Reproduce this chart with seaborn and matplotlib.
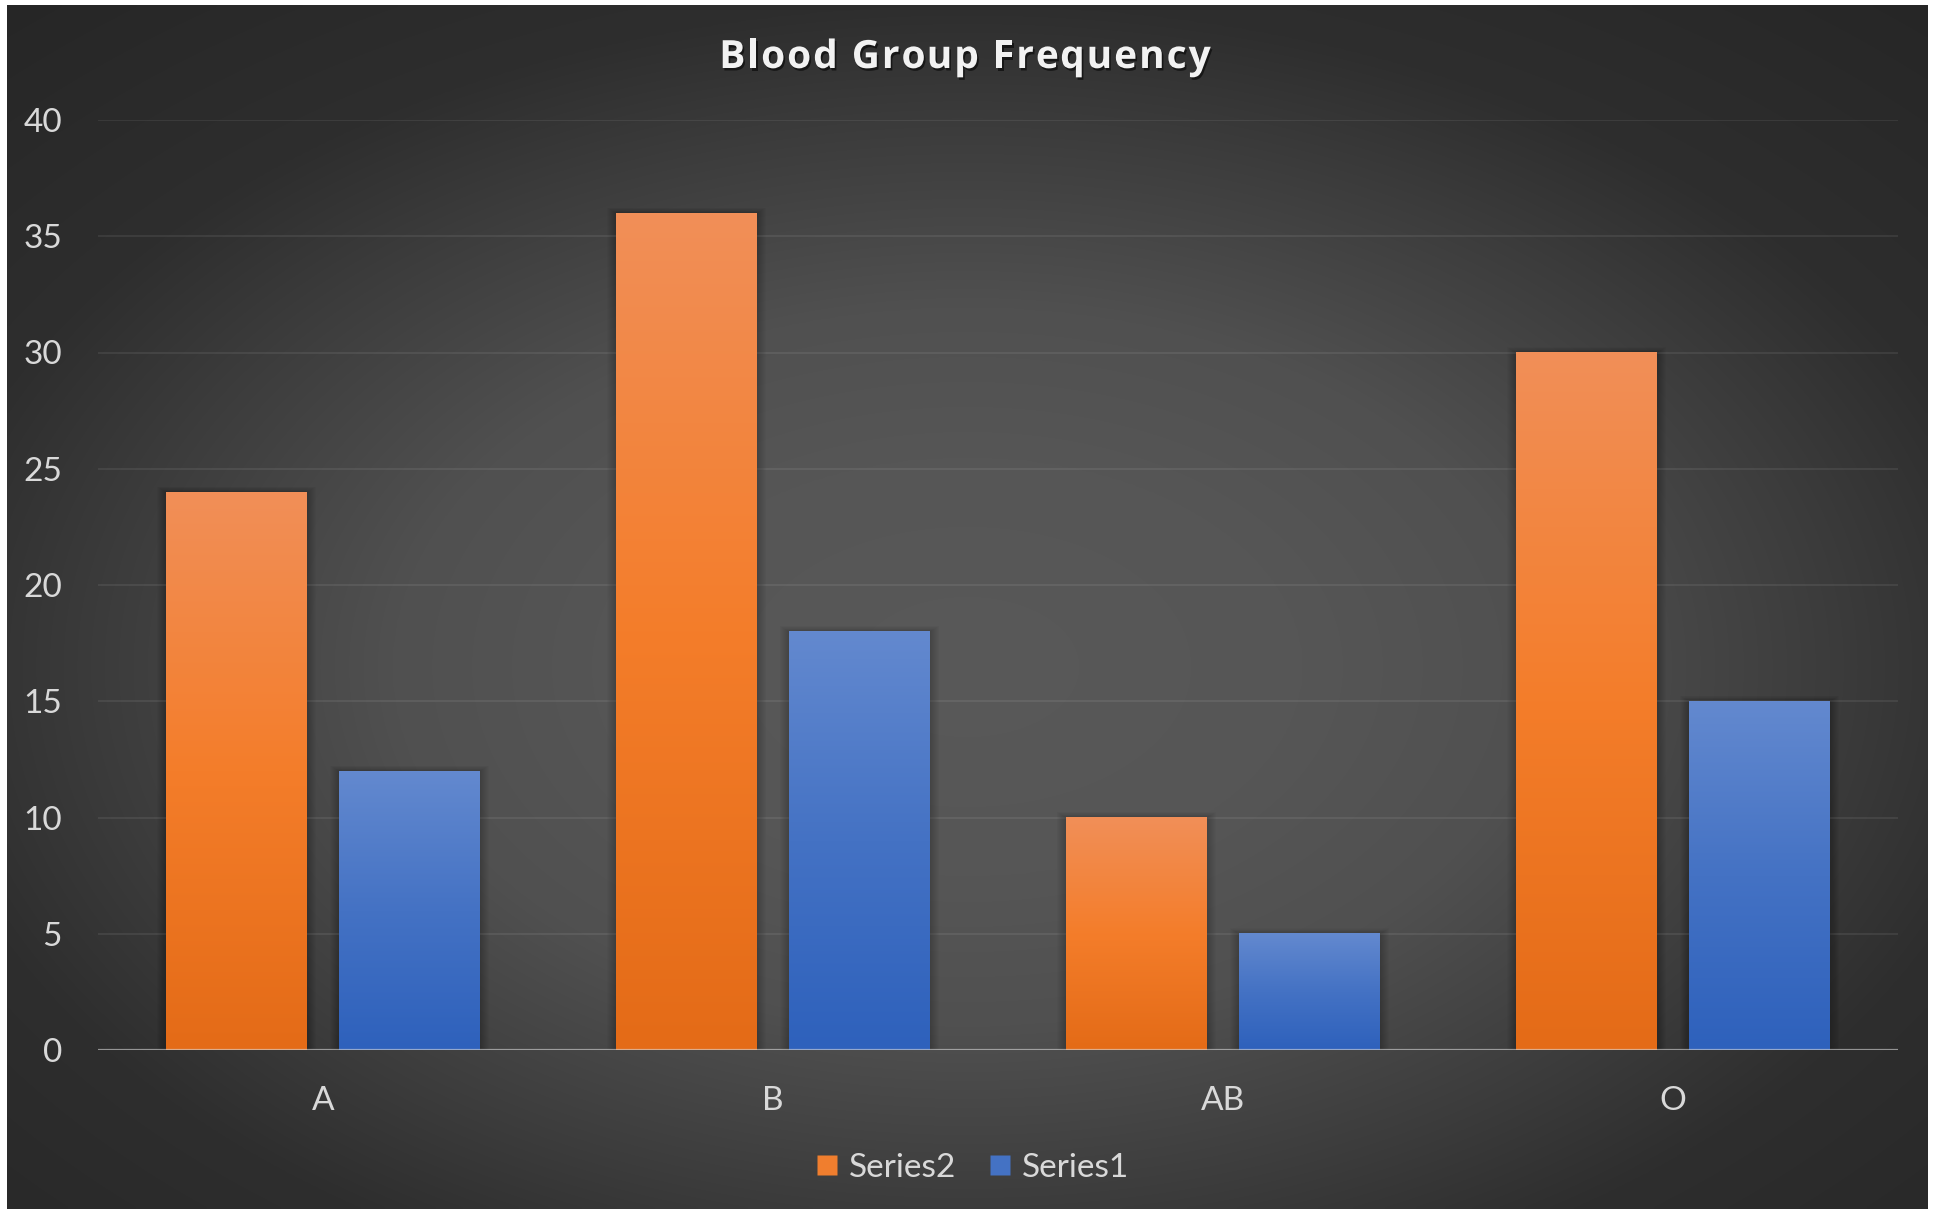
import numpy as np
import pandas as pd
import matplotlib
matplotlib.use("Agg")
import matplotlib.pyplot as plt
import matplotlib.patheffects as pe
from matplotlib.lines import Line2D
from matplotlib.patches import Rectangle
import seaborn as sns

# ---- data ----
groups = ["A", "B", "AB", "O"]
series2 = [24, 36, 10, 30]
series1 = [12, 18, 5, 15]
series_names = ["Series2", "Series1"]
y_ticks = [0, 5, 10, 15, 20, 25, 30, 35, 40]
title = "Blood Group Frequency"

df = pd.DataFrame({
    "group": groups * 2,
    "value": series2 + series1,
    "series": [series_names[0]] * len(groups) + [series_names[1]] * len(groups),
})

W, H, DPI = 1938, 1209, 100
sns.set_theme(style="white")
plt.rcParams["font.family"] = ["Lato", "DejaVu Sans"]

fig = plt.figure(figsize=(W / DPI, H / DPI), dpi=DPI, facecolor="white")

# ---- radial dark background panel ----
bx0, bx1, by0, by1 = 7, 1928, 0, 1204  # pixel extents (from left / from bottom)
bg_ax = fig.add_axes([bx0 / W, by0 / H, (bx1 - bx0) / W, (by1 - by0) / H])
bg_ax.set_axis_off()
nx, ny = 480, 300
xx, yy = np.meshgrid(np.linspace(0, 1, nx), np.linspace(0, 1, ny))
cx, cy = 0.50, 0.55
r = np.sqrt(((xx - cx) / 0.5) ** 2 + ((yy - cy) / 0.5) ** 2)
lev = np.interp(r, [0.0, 0.35, 0.6, 0.9, 1.1, 1.5], [0x59, 0x56, 0x50, 0x3c, 0x2e, 0x26]) / 255.0
bg = np.dstack([lev, lev, lev])
bg_ax.imshow(bg, extent=[0, 1, 0, 1], origin="upper", aspect="auto", interpolation="bilinear")
bg_ax.set_xlim(0, 1)
bg_ax.set_ylim(0, 1)

# ---- main plot axes ----
left, right = 98, 1898
bottom, top = H - 1050, H - 120
ax = fig.add_axes([left / W, bottom / H, (right - left) / W, (top - bottom) / H])
ax.patch.set_alpha(0)

orange_mid = "#F07E2E"
blue_mid = "#4472C4"
sns.barplot(
    data=df, x="group", y="value", hue="series", order=groups,
    hue_order=series_names, palette=[orange_mid, blue_mid],
    width=0.77, gap=0.19, ax=ax, legend=False, saturation=1,
    edgecolor="none", linewidth=0,
)

ax.set_ylim(0, 40)
ax.set_xlim(-0.5, len(groups) - 0.5)
ax.set_yticks(y_ticks)
ax.set_xlabel("")
ax.set_ylabel("")
for s in ax.spines.values():
    s.set_visible(False)

# gridlines
for t in y_ticks[1:]:
    ax.axhline(t, color="white", alpha=0.075, lw=1.5, zorder=0.5)
# baseline
ax.axhline(0, color="#d9d9d9", alpha=0.6, lw=1.6, zorder=5)

ax.tick_params(axis="both", length=0, colors="#D9D9D9", labelsize=24)
ax.tick_params(axis="y", pad=26)
ax.tick_params(axis="x", pad=26)
for lbl in ax.get_xticklabels() + ax.get_yticklabels():
    lbl.set_color("#D9D9D9")

# ---- gradient fills and soft shadows on bars ----
grad_colors = {
    series_names[0]: ((0xF1, 0x8F, 0x58), (0xF4, 0x7D, 0x2A), (0xE4, 0x6B, 0x17)),
    series_names[1]: ((0x63, 0x89, 0xCF), (0x44, 0x72, 0xC4), (0x2E, 0x61, 0xBC)),
}
fig.canvas.draw()
inv = ax.transData.inverted()
px_x = abs(inv.transform((1, 0))[0] - inv.transform((0, 0))[0])
px_y = abs(inv.transform((0, 1))[1] - inv.transform((0, 0))[1])

bars = list(ax.patches)
n = len(groups)
for i, bar in enumerate(bars):
    name = series_names[i // n]
    x0 = bar.get_x()
    w = bar.get_width()
    h = bar.get_height()
    # soft shadow
    for k in range(1, 10):
        ax.add_patch(Rectangle((x0 - k * px_x, 0), w + 2 * k * px_x, h + k * px_y * 0.6,
                               facecolor="black", alpha=0.022, edgecolor="none", zorder=1))
    c_top, c_mid, c_bot = grad_colors[name]
    t = np.linspace(0, 1, 256)
    cols = np.zeros((256, 1, 3))
    for ch in range(3):
        cols[:, 0, ch] = np.interp(t, [0, 0.5, 1], [c_top[ch], c_mid[ch], c_bot[ch]]) / 255.0
    ax.imshow(cols, extent=[x0, x0 + w, 0, h], origin="upper", aspect="auto",
              interpolation="bilinear", zorder=2)
    bar.set_visible(False)

ax.set_xlim(-0.5, len(groups) - 0.5)
ax.set_ylim(0, 40)

# ---- letter-spaced title ----
renderer = fig.canvas.get_renderer()
title_kw = dict(fontsize=28, fontweight="bold", color="#F2F2F2",
                family=["Open Sans", "DejaVu Sans"], va="baseline", ha="left")
shadow = [pe.withSimplePatchShadow(offset=(1.2, -1.8), shadow_rgbFace="black", alpha=0.55)]
tracking = 2.0  # extra pixels between letters


def text_width(s):
    probe = fig.text(0, 0, s + "|", **title_kw)
    bar_probe = fig.text(0, 0, "|", **title_kw)
    wpx = probe.get_window_extent(renderer).width - bar_probe.get_window_extent(renderer).width
    probe.remove()
    bar_probe.remove()
    return wpx


total = text_width(title) + tracking * (len(title) - 1)
x_start = 965 - total / 2
baseline_y = H - 68
for i, ch in enumerate(title):
    if ch == " ":
        continue
    xpix = x_start + text_width(title[:i]) + tracking * i
    fig.text(xpix / W, baseline_y / H, ch, path_effects=shadow, **title_kw)

# ---- legend ----
handles = [
    Line2D([], [], marker="s", linestyle="none", markersize=15,
           markerfacecolor=orange_mid, markeredgecolor="none"),
    Line2D([], [], marker="s", linestyle="none", markersize=15,
           markerfacecolor=blue_mid, markeredgecolor="none"),
]
leg = fig.legend(handles, series_names, loc="center", bbox_to_anchor=(973 / W, 1 - 1168 / H),
                 ncol=2, frameon=False, fontsize=24, handlelength=0.6, handletextpad=0.35,
                 columnspacing=1.0, labelcolor="#D9D9D9", borderaxespad=0)

fig.savefig("out.png", dpi=DPI, facecolor="white")
